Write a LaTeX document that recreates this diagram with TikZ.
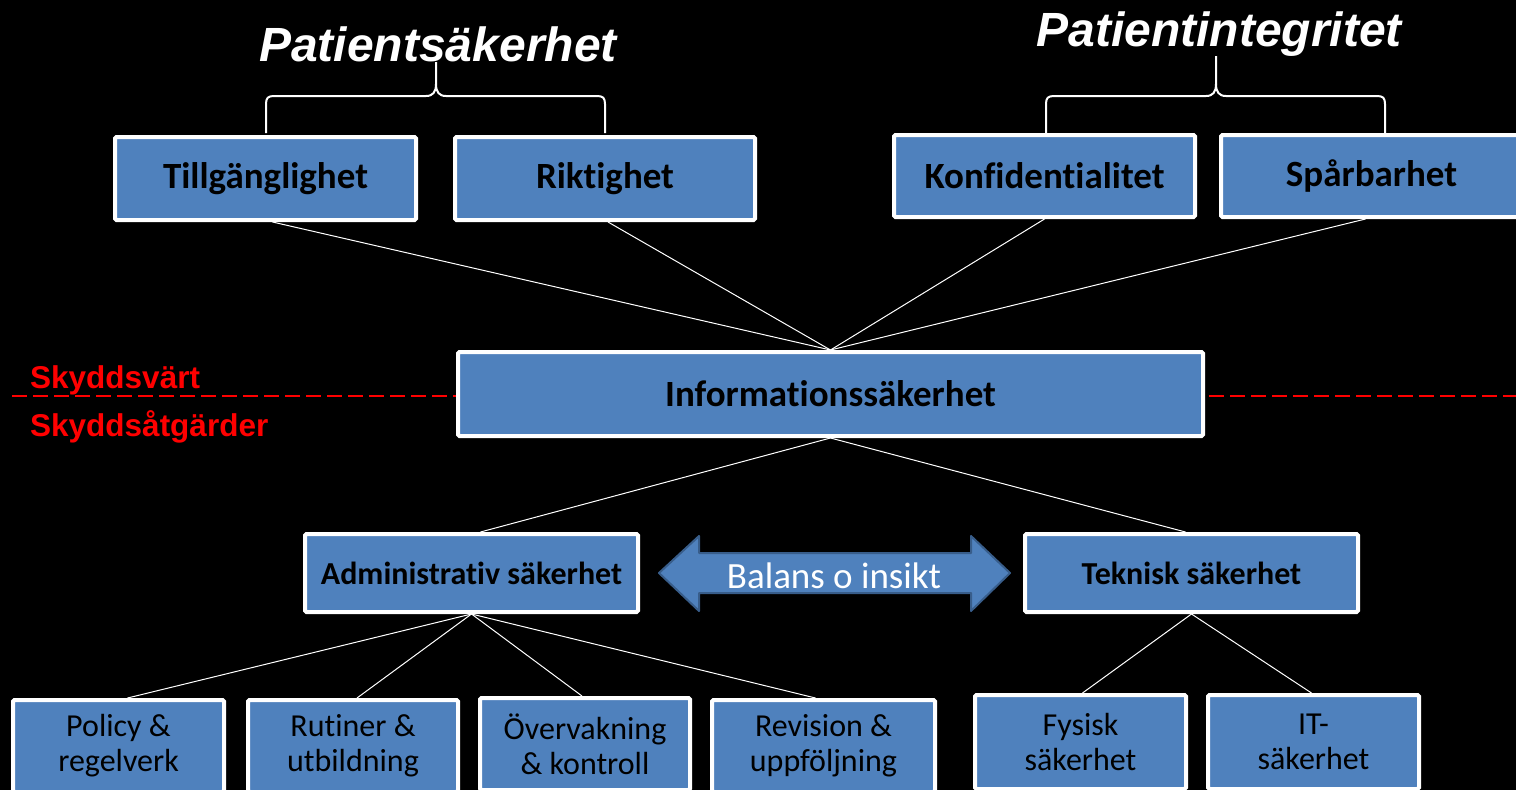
\documentclass[tikz,border=0pt]{standalone}
\usepackage{fontspec}
\setmainfont[Ligatures=NoCommon]{Carlito}
\newfontfamily\arialfont{Liberation Sans}
\usetikzlibrary{backgrounds}
\definecolor{boxblue}{HTML}{4F81BD}
\definecolor{arrowedge}{HTML}{385D8A}
\definecolor{warnred}{HTML}{FF0000}

\begin{document}
\begin{tikzpicture}[x=1pt,y=-1pt,
  box/.style={draw=white, line width=4pt, fill=boxblue, rounded corners=1.5pt,
    inner sep=0pt, text=black, align=center},
  headbox/.style={box, font=\bfseries\fontsize{37}{40}\selectfont},
  midbox/.style={box, font=\bfseries\fontsize{32}{36}\selectfont},
  leafbox/.style={box, font=\fontsize{32}{35}\selectfont},
  link/.style={draw=white, line width=1pt},
  brace/.style={draw=white, line width=2pt},
  title/.style={text=white, font=\arialfont\bfseries\itshape\fontsize{48}{56}\selectfont,
    inner sep=0pt, anchor=base},
  zone/.style={text=warnred, font=\arialfont\bfseries\fontsize{31.5}{36}\selectfont,
    inner sep=0pt, anchor=base west},
  balarrow/.style={fill=boxblue, draw=arrowedge, line width=2pt, line join=round}]

\useasboundingbox (0,0) rectangle (1516,790);
\clip (0,0) rectangle (1516,790);

% titles
\node[title] (psak) at (438,61) {Patientsäkerhet};
\node[title] (pint) at (1219,46) {Patientintegritet};

% curly braces under the titles
\draw[brace] (266,133) -- (266,104) .. controls (266,98) and (268,96) .. (274,96)
  -- (426,96) .. controls (433,96) and (436,92) .. (436,84) -- (436,62);
\draw[brace] (436,84) .. controls (436,92) and (439,96) .. (446,96)
  -- (597,96) .. controls (603,96) and (605,98) .. (605,104) -- (605,133);
\draw[brace] (1046,133) -- (1046,104) .. controls (1046,98) and (1048,96) .. (1054,96)
  -- (1206,96) .. controls (1213,96) and (1216,92) .. (1216,84) -- (1216,56);
\draw[brace] (1216,84) .. controls (1216,92) and (1219,96) .. (1226,96)
  -- (1377,96) .. controls (1383,96) and (1385,98) .. (1385,104) -- (1385,133);

% protected values
\node[headbox, minimum width=301, minimum height=83] (till) at (265.5,178.5) {Tillgänglighet};
\node[headbox, minimum width=300, minimum height=83] (rikt) at (605,178.5) {Riktighet};
\node[headbox, minimum width=301, minimum height=82] (konf) at (1044.5,176) {Konfidentialitet};
\node[headbox, minimum width=301, minimum height=82] (spar) at (1371.5,176) {Spårbarhet};

% centre
\node[headbox, minimum width=745, minimum height=84] (info) at (830.5,394) {Informationssäkerhet};

% zone labels
\node[zone] (vart) at (30,388) {Skyddsvärt};
\node[zone] (atg) at (30,436) {Skyddsåtgärder};

% measures
\node[midbox, minimum width=333, minimum height=78] (admin) at (471.5,573) {Administrativ säkerhet};
\node[midbox, minimum width=333, minimum height=78] (tek) at (1191.5,573) {Teknisk säkerhet};

% balance arrow
\draw[balarrow] (659,573) -- (699,536) -- (699,553) -- (971,553) -- (971,536)
  -- (1010,573) -- (971,611) -- (971,593) -- (699,593) -- (699,611) -- cycle;
\node[text=white, font=\fontsize{37}{40}\selectfont, inner sep=0pt] (bal) at (834,576) {Balans o insikt};

% leaves
\node[leafbox, minimum width=211, minimum height=92] (policy) at (118.5,746) {Policy \&\\regelverk};
\node[leafbox, minimum width=210, minimum height=92] (rutiner) at (353,746) {Rutiner \&\\utbildning};
\node[leafbox, minimum width=210, minimum height=92] (overv) at (585,744) {Övervakning\\\& kontroll};
\node[leafbox, minimum width=223, minimum height=92] (revis) at (823.5,746) {Revision \&\\uppföljning};
\node[leafbox, minimum width=211, minimum height=94] (fysisk) at (1080.5,742) {Fysisk\\säkerhet};
\node[leafbox, minimum width=211, minimum height=94] (it) at (1313.5,742) {IT-\\säkerhet};

\begin{scope}[on background layer]
  \fill[black] (0,0) rectangle (1516,790);
  \draw[warnred, line width=2.5pt, dash pattern=on 15pt off 6pt] (12,396) -- (1516,396);
  \draw[link] ([xshift=7pt]till.south) -- (info.north);
  \draw[link] ([xshift=3pt]rikt.south) -- (info.north);
  \draw[link] (konf.south) -- (info.north);
  \draw[link] ([xshift=-6pt]spar.south) -- (info.north);
  \draw[link] (info.south) -- ([xshift=9pt]admin.north);
  \draw[link] (info.south) -- ([xshift=-6pt]tek.north);
  \draw[link] (admin.south) -- ([xshift=9pt]policy.north);
  \draw[link] (admin.south) -- ([xshift=4pt]rutiner.north);
  \draw[link] (admin.south) -- ([xshift=-3pt]overv.north);
  \draw[link] (admin.south) -- ([xshift=-8pt]revis.north);
  \draw[link] (tek.south) -- ([xshift=2pt]fysisk.north);
  \draw[link] (tek.south) -- ([xshift=-2pt]it.north);
\end{scope}
\end{tikzpicture}
\end{document}
